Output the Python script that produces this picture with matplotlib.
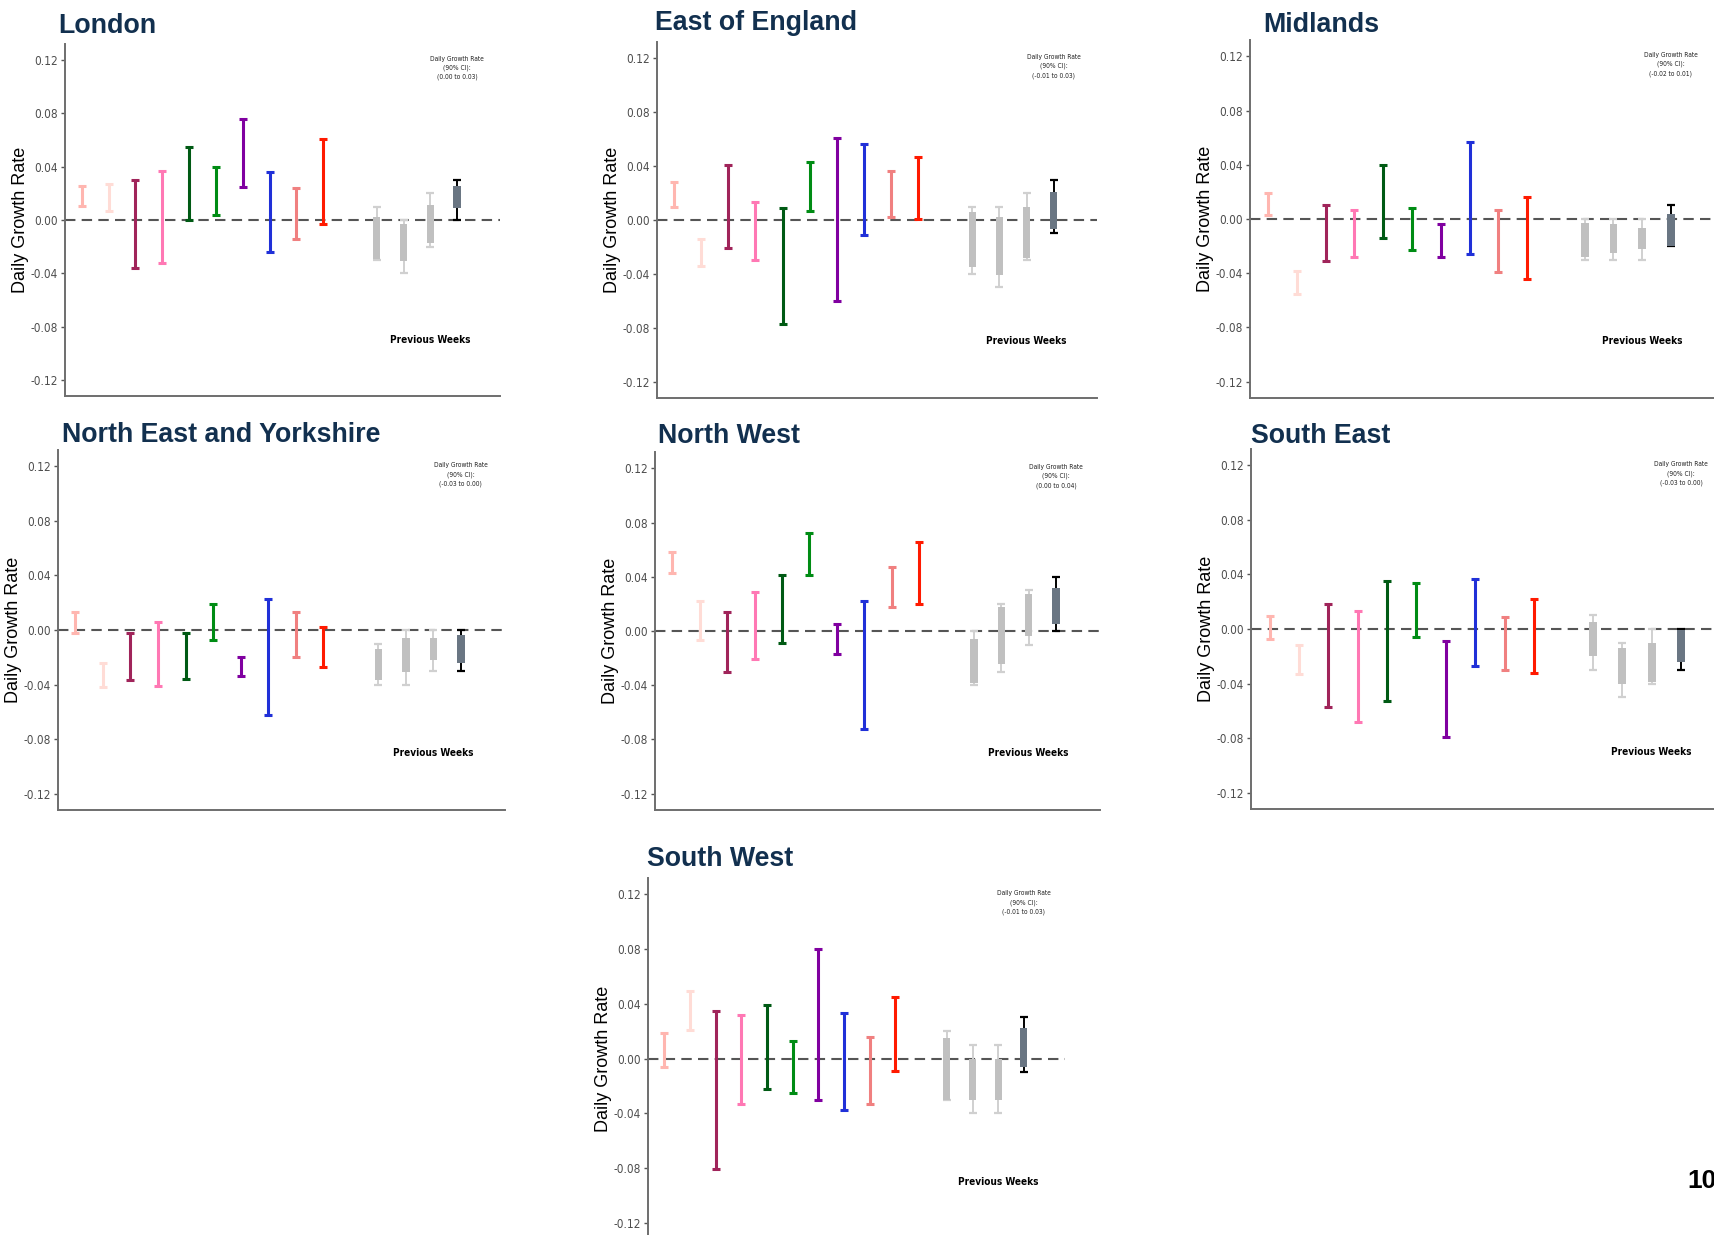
import matplotlib
matplotlib.use("Agg")
import matplotlib.pyplot as plt
from matplotlib import font_manager

# ---- data ---------------------------------------------------------------
regions = [
    "London", "East of England", "Midlands", "North East and Yorkshire",
    "North West", "South East", "South West",
]

model_colors = [
    "#ffb6b0", "#ffdcd6", "#a0245a", "#ff78b4", "#005a14",
    "#008c14", "#8000a0", "#2030d8", "#f08080", "#ff1a00",
]

# model estimates: (low, high) for each of 10 models
model_low = {
    "London": [0.0105, 0.007, -0.036, -0.032, 0.000, 0.004, 0.025, -0.024, -0.0145, -0.003],
    "East of England": [0.010, -0.034, -0.021, -0.030, -0.077, 0.007, -0.060, -0.011, 0.0025, 0.0005],
    "Midlands": [0.003, -0.055, -0.031, -0.028, -0.014, -0.023, -0.028, -0.026, -0.039, -0.044],
    "North East and Yorkshire": [-0.002, -0.042, -0.037, -0.041, -0.036, -0.007, -0.034, -0.062, -0.020, -0.027],
    "North West": [0.043, -0.007, -0.030, -0.021, -0.009, 0.041, -0.017, -0.072, 0.018, 0.020],
    "South East": [-0.007, -0.033, -0.057, -0.068, -0.053, -0.006, -0.079, -0.027, -0.030, -0.032],
    "South West": [-0.006, 0.021, -0.081, -0.033, -0.022, -0.025, -0.030, -0.038, -0.033, -0.009],
}
model_high = {
    "London": [0.0255, 0.027, 0.030, 0.037, 0.055, 0.040, 0.076, 0.036, 0.024, 0.061],
    "East of England": [0.028, -0.014, 0.041, 0.013, 0.009, 0.043, 0.061, 0.056, 0.036, 0.047],
    "Midlands": [0.019, -0.038, 0.010, 0.007, 0.040, 0.008, -0.004, 0.057, 0.007, 0.016],
    "North East and Yorkshire": [0.013, -0.024, -0.002, 0.006, -0.002, 0.019, -0.020, 0.023, 0.013, 0.002],
    "North West": [0.058, 0.022, 0.014, 0.029, 0.041, 0.072, 0.005, 0.022, 0.047, 0.066],
    "South East": [0.0095, -0.012, 0.018, 0.013, 0.035, 0.034, -0.0085, 0.037, 0.0085, 0.022],
    "South West": [0.019, 0.049, 0.035, 0.032, 0.039, 0.013, 0.080, 0.033, 0.016, 0.045],
}

# previous weeks (last entry = current combined): box and whisker ranges
box_low = {
    "London": [-0.029, -0.031, -0.017, 0.009],
    "East of England": [-0.035, -0.041, -0.028, -0.007],
    "Midlands": [-0.028, -0.025, -0.022, -0.020],
    "North East and Yorkshire": [-0.037, -0.031, -0.022, -0.024],
    "North West": [-0.038, -0.024, -0.004, 0.005],
    "South East": [-0.020, -0.040, -0.039, -0.024],
    "South West": [-0.030, -0.030, -0.030, -0.006],
}
box_high = {
    "London": [0.002, -0.003, 0.011, 0.0255],
    "East of England": [0.006, 0.0025, 0.010, 0.021],
    "Midlands": [-0.003, -0.004, -0.007, 0.004],
    "North East and Yorkshire": [-0.014, -0.006, -0.006, -0.004],
    "North West": [-0.006, 0.018, 0.027, 0.032],
    "South East": [0.005, -0.014, -0.010, -0.001],
    "South West": [0.015, 0.000, 0.000, 0.022],
}
whisker_low = {
    "London": [-0.03, -0.04, -0.02, 0.00],
    "East of England": [-0.04, -0.05, -0.03, -0.01],
    "Midlands": [-0.03, -0.03, -0.03, -0.02],
    "North East and Yorkshire": [-0.04, -0.04, -0.03, -0.03],
    "North West": [-0.04, -0.03, -0.01, 0.00],
    "South East": [-0.03, -0.05, -0.04, -0.03],
    "South West": [-0.03, -0.04, -0.04, -0.01],
}
whisker_high = {
    "London": [0.01, 0.00, 0.02, 0.03],
    "East of England": [0.01, 0.01, 0.02, 0.03],
    "Midlands": [0.00, 0.00, 0.00, 0.01],
    "North East and Yorkshire": [-0.01, 0.00, 0.00, 0.00],
    "North West": [0.00, 0.02, 0.03, 0.04],
    "South East": [0.01, -0.01, 0.00, 0.00],
    "South West": [0.02, 0.01, 0.01, 0.03],
}

model_x = [1, 2, 3, 4, 5, 6, 7, 8, 9, 10]
prev_x = [12, 13, 14, 15]
y_ticks = [-0.12, -0.08, -0.04, 0.00, 0.04, 0.08, 0.12]

# ---- layout (pixel boxes: left, top, right, bottom) ---------------------
W, H = 1715, 1235
panel_boxes = {
    "London": (65, 44, 500, 396),
    "East of England": (657, 42, 1097, 398),
    "Midlands": (1250, 40, 1717, 398),
    "North East and Yorkshire": (58, 450, 505, 810),
    "North West": (655, 452, 1100, 810),
    "South East": (1251, 449, 1728, 809),
    "South West": (648, 878, 1065, 1239),
}
title_pos = {
    "London": (58, 33),
    "East of England": (655, 30),
    "Midlands": (1263, 32),
    "North East and Yorkshire": (62, 442),
    "North West": (658, 443),
    "South East": (1251, 443),
    "South West": (647, 866),
}

# condensed font for the small plot texts, if one is installed
fonts = font_manager.fontManager.ttflist
names = {f.name for f in fonts}
narrow_family, narrow_stretch = "Liberation Sans", "normal"
if "Liberation Sans Narrow" in names:
    narrow_family = "Liberation Sans Narrow"
elif any(f.name == "DejaVu Sans" and f.stretch == "condensed" for f in fonts):
    narrow_family, narrow_stretch = "DejaVu Sans", "condensed"

plt.rcParams["font.family"] = ["Liberation Sans", "DejaVu Sans"]

fig = plt.figure(figsize=(W / 100, H / 100), dpi=100)

for region in regions:
    l, t, r, b = panel_boxes[region]
    ax = fig.add_axes([l / W, 1 - b / H, (r - l) / W, (b - t) / H])

    ax.axhline(0, color="#555555", lw=1.5, linestyle=(0, (5, 3)), zorder=1)

    lows = model_low[region]
    highs = model_high[region]
    for x, lo, hi, c in zip(model_x, lows, highs, model_colors):
        ax.errorbar([x], [(lo + hi) / 2], yerr=[[(hi - lo) / 2], [(hi - lo) / 2]],
                    fmt="none", ecolor=c, elinewidth=2.2, capsize=2.6,
                    capthick=2.2, zorder=3)

    for i, x in enumerate(prev_x):
        last = i == len(prev_x) - 1
        wl, wh = whisker_low[region][i], whisker_high[region][i]
        bl, bh = box_low[region][i], box_high[region][i]
        wcol = "black" if last else "#d0d0d0"
        bcol = "#6a7683" if last else "#c0c0c0"
        ax.errorbar([x], [(wl + wh) / 2], yerr=[[(wh - wl) / 2], [(wh - wl) / 2]],
                    fmt="none", ecolor=wcol, elinewidth=1.4, capsize=2.6,
                    capthick=1.6, zorder=2)
        ax.bar([x], [bh - bl], bottom=[bl], width=0.27, color=bcol, zorder=3)

    ax.set_xlim(0.37, 16.6)
    ax.set_ylim(-0.132, 0.132)
    ax.set_yticks(y_ticks)
    ax.set_yticklabels([f"{v:.2f}" for v in y_ticks], family=narrow_family,
                       stretch=narrow_stretch, fontsize=8.5, color="#4d4d4d")
    ax.set_xticks([])
    ax.tick_params(axis="y", length=3, width=1, color="#555555", pad=2)
    for side in ["top", "right"]:
        ax.spines[side].set_visible(False)
    for side in ["left", "bottom"]:
        ax.spines[side].set_color("#6e6e6e")
        ax.spines[side].set_linewidth(1.4)
    ax.set_ylabel("Daily Growth Rate", fontsize=13, color="black")
    ax.yaxis.set_label_coords(-36 / (r - l), 0.5)

    ax.text(14, -0.09, "Previous Weeks", family=narrow_family,
            stretch=narrow_stretch, fontsize=7.2, fontweight="bold",
            ha="center", va="center")
    ci_text = f"({whisker_low[region][3]:.2f} to {whisker_high[region][3]:.2f})"
    ax.text(15, 0.114, "Daily Growth Rate\n(90% CI):\n" + ci_text,
            family=narrow_family, stretch=narrow_stretch, fontsize=4.8,
            ha="center", va="center", linespacing=1.6, color="#222222")

    tx, ty = title_pos[region]
    fig.text(tx / W, 1 - ty / H, region, fontsize=19.3, fontweight="bold",
             color="#12304f", ha="left", va="baseline")

fig.text(1687 / W, 1 - 1188 / H, "10", fontsize=19, fontweight="bold",
         color="black", ha="left", va="baseline")

fig.savefig("out.png", dpi=100, facecolor="white")
